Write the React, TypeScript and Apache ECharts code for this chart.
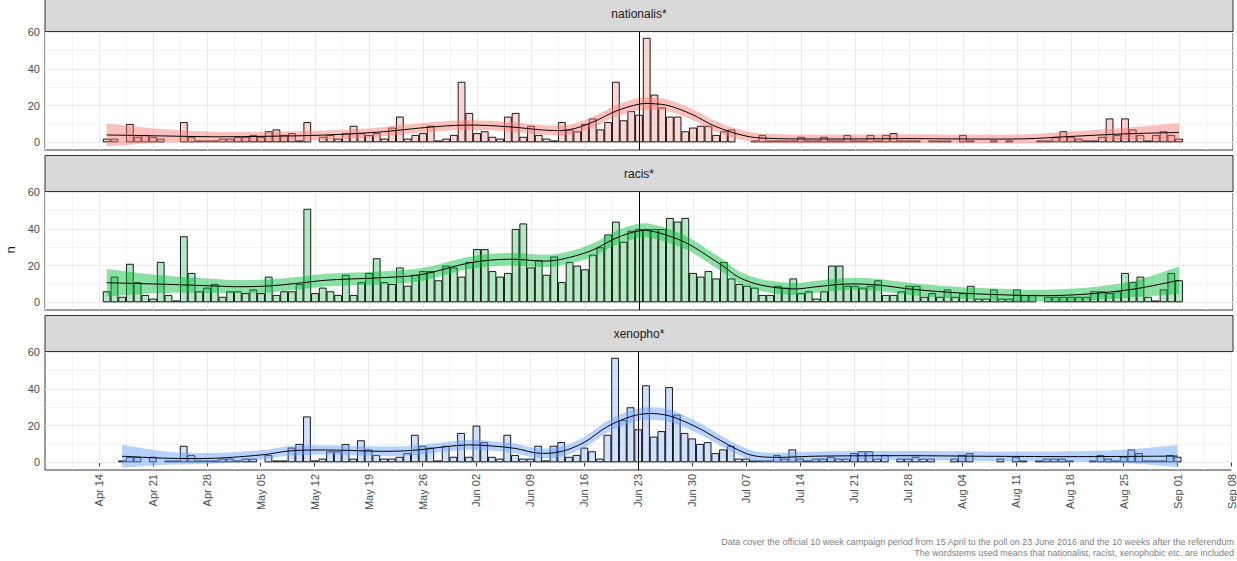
import React, { useEffect, useRef } from 'react';
import * as echarts from 'echarts';

// ---------- data ----------
const facetNames = ['nationalis*', 'racis*', 'xenopho*'];
// x value 0 = 14 April 2016; day 1 = 15 April ... day 140 = 1 September
const xTickLabels = ['Apr 14', 'Apr 21', 'Apr 28', 'May 05', 'May 12', 'May 19', 'May 26', 'Jun 02', 'Jun 09', 'Jun 16', 'Jun 23', 'Jun 30', 'Jul 07', 'Jul 14', 'Jul 21', 'Jul 28', 'Aug 04', 'Aug 11', 'Aug 18', 'Aug 25', 'Sep 01', 'Sep 08'];
const yTickValues = [0, 20, 40, 60];
const referendumDay = 70; // 23 June

const nationalisCounts = [
  2, 2, 0, 10, 3, 4, 3, 2, 0, 0,
  11, 3, 1, 1, 1, 2, 2, 3, 3, 4,
  3, 6, 7, 4, 5, 1, 11, 0, 3, 4,
  2, 5, 9, 5, 4, 5, 2, 8, 14, 2,
  4, 5, 9, 1, 2, 4, 33, 16, 5, 6,
  3, 2, 14, 16, 3, 9, 4, 2, 1, 11,
  7, 6, 10, 13, 7, 11, 33, 12, 17, 15,
  57, 26, 19, 14, 14, 6, 8, 9, 9, 4,
  6, 7, 0, 0, 1, 4, 1, 1, 1, 1,
  3, 1, 1, 3, 1, 1, 4, 1, 1, 4,
  1, 4, 5, 1, 1, 1, 0, 1, 1, 1,
  0, 4, 1, 0, 0, 1, 0, 1, 0, 0,
  0, 1, 1, 3, 6, 3, 2, 1, 1, 3,
  13, 4, 13, 7, 4, 1, 4, 6, 4, 2,
];
const racisCounts = [
  6, 14, 3, 21, 11, 4, 2, 22, 4, 1,
  36, 16, 6, 8, 10, 3, 6, 6, 5, 7,
  5, 14, 4, 6, 6, 10, 51, 5, 8, 6,
  4, 15, 4, 11, 16, 24, 11, 10, 19, 9,
  15, 17, 17, 12, 20, 19, 14, 22, 29, 29,
  17, 14, 16, 40, 43, 19, 23, 15, 25, 11,
  22, 20, 18, 26, 30, 37, 44, 33, 39, 40,
  40, 40, 40, 46, 44, 46, 16, 14, 17, 13,
  22, 13, 10, 9, 8, 4, 4, 9, 8, 13,
  5, 6, 2, 6, 20, 20, 9, 9, 8, 9,
  12, 4, 4, 6, 9, 9, 3, 5, 3, 7,
  3, 5, 9, 2, 2, 7, 2, 2, 7, 4,
  4, 0, 3, 3, 3, 3, 3, 3, 6, 6,
  5, 6, 16, 11, 14, 3, 1, 7, 16, 12,
];
const xenophoCounts = [
  0, 0, 1, 3, 3, 0, 3, 0, 1, 1,
  9, 4, 1, 1, 1, 2, 2, 1, 2, 2,
  0, 4, 1, 1, 8, 10, 25, 1, 2, 6,
  6, 10, 2, 12, 7, 4, 2, 2, 3, 5,
  15, 9, 8, 1, 9, 3, 16, 3, 20, 11,
  3, 2, 15, 4, 2, 2, 9, 1, 9, 11,
  3, 4, 8, 6, 2, 15, 57, 23, 30, 18,
  42, 14, 17, 41, 26, 16, 13, 10, 11, 5,
  7, 9, 2, 2, 1, 1, 1, 4, 2, 7,
  2, 1, 2, 2, 3, 2, 2, 5, 6, 6,
  2, 4, 0, 2, 2, 3, 2, 2, 0, 0,
  2, 4, 5, 0, 0, 0, 2, 0, 3, 1,
  0, 1, 2, 2, 2, 1, 0, 0, 1, 4,
  2, 1, 3, 7, 5, 1, 1, 1, 4, 3,
];

// smoothed trend and half-width of its confidence band
const nationalisSmoothDays = [1, 8, 15, 22, 29, 36, 43, 48, 53, 58, 61, 64, 67, 70, 72, 74, 77, 80, 84, 88, 95, 105, 113, 120, 126, 133, 140];
const nationalisSmoothFit = [4.0, 3.5, 3.0, 3.3, 3.9, 5.5, 8.3, 9.4, 8.5, 6.6, 6.9, 11.0, 17.0, 20.8, 21.0, 19.8, 15.0, 8.5, 3.3, 2.0, 1.8, 2.0, 1.8, 1.9, 3.2, 4.6, 5.4];
const nationalisSmoothSE = [6.3, 3.8, 2.8, 2.5, 2.5, 2.5, 2.6, 2.6, 2.6, 2.6, 2.7, 2.9, 3.1, 3.3, 3.3, 3.2, 3.0, 2.8, 2.6, 2.5, 2.4, 2.4, 2.4, 2.5, 2.7, 3.4, 5.0];

const racisSmoothDays = [1, 8, 15, 18, 22, 26, 30, 37, 42, 48, 53, 58, 61, 64, 67, 70, 72, 75, 77, 79, 81, 83, 86, 90, 93, 97, 101, 105, 110, 115, 122, 127, 131, 135, 140];
const racisSmoothFit = [10.7, 9.9, 8.9, 8.5, 8.9, 10.5, 12.2, 13.5, 15.3, 21.5, 23.5, 22.5, 24.5, 28.5, 35.0, 39.0, 38.5, 34.5, 30.4, 25.0, 19.5, 13.5, 9.2, 7.3, 8.5, 10.0, 9.4, 7.3, 5.5, 4.4, 3.6, 4.2, 5.6, 7.8, 12.0];
const racisSmoothSE = [7.5, 4.8, 3.8, 3.6, 3.5, 3.5, 3.5, 3.5, 3.5, 3.4, 3.4, 3.4, 3.4, 3.6, 3.8, 3.8, 3.8, 3.7, 3.6, 3.5, 3.4, 3.3, 3.3, 3.3, 3.3, 3.3, 3.3, 3.3, 3.2, 3.2, 3.2, 3.4, 3.8, 4.8, 7.5];

const xenophoSmoothDays = [3, 9, 15, 21, 25, 30, 37, 41, 45, 48, 51, 54, 57, 60, 63, 66, 69, 71, 73, 75, 78, 80, 83, 85, 88, 94, 105, 115, 125, 133, 140];
const xenophoSmoothFit = [3.3, 2.2, 2.2, 4.0, 6.3, 6.7, 6.0, 6.6, 8.5, 9.5, 8.9, 7.6, 5.0, 5.9, 10.9, 19.5, 24.9, 26.5, 26.2, 24.0, 18.3, 13.5, 6.7, 3.6, 2.7, 3.4, 3.6, 3.3, 3.1, 3.2, 3.4];
const xenophoSmoothSE = [6.3, 3.6, 2.9, 2.6, 2.6, 2.6, 2.6, 2.6, 2.6, 2.6, 2.6, 2.6, 2.6, 2.7, 2.9, 3.2, 3.4, 3.4, 3.4, 3.3, 3.1, 2.9, 2.7, 2.6, 2.5, 2.5, 2.5, 2.6, 2.8, 3.6, 6.0];

const captionLines = [
  'Data cover the official 10 week campaign period from 15 April to the poll on 23 June 2016 and the 10 weeks after the referendum',
  'The wordstems used means that nationalist, racist, xenophobic etc. are included',
];

// ---------- layout / style ----------
const W = 1237;
const H = 561;
const LEFT = 45;
const RIGHT = 4;
const PANEL_TOPS = [31.5, 191.5, 351.5];
const PANEL_H = 118.5;
const STRIP_H = 36;
const X_MIN = -7;
const X_MAX = 147;
const Y_MIN = -4.2;
const Y_MAX = 60.44;
const FONT = '"Liberation Sans", Arial, Helvetica, sans-serif';
const GRID_COLOR = '#EBEBEB';

const panels = [
  { counts: nationalisCounts, days: nationalisSmoothDays, fit: nationalisSmoothFit, se: nationalisSmoothSE, fill: 'rgba(248,118,109,0.3)', band: 'rgba(248,118,109,0.45)' },
  { counts: racisCounts, days: racisSmoothDays, fit: racisSmoothFit, se: racisSmoothSE, fill: 'rgba(0,186,56,0.3)', band: 'rgba(0,186,56,0.45)' },
  { counts: xenophoCounts, days: xenophoSmoothDays, fit: xenophoSmoothFit, se: xenophoSmoothSE, fill: 'rgba(97,156,255,0.3)', band: 'rgba(97,156,255,0.45)' },
];

// Catmull-Rom curve through already-projected pixel points (bezier segments only)
function curveSegments(pts: number[][]): string {
  const n = pts.length;
  let d = '';
  for (let i = 0; i < n - 1; i++) {
    const p0 = pts[Math.max(i - 1, 0)];
    const p1 = pts[i];
    const p2 = pts[i + 1];
    const p3 = pts[Math.min(i + 2, n - 1)];
    const c1x = p1[0] + (p2[0] - p0[0]) / 6;
    const c1y = p1[1] + (p2[1] - p0[1]) / 6;
    const c2x = p2[0] - (p3[0] - p1[0]) / 6;
    const c2y = p2[1] - (p3[1] - p1[1]) / 6;
    d += ` C${c1x.toFixed(2)},${c1y.toFixed(2)} ${c2x.toFixed(2)},${c2y.toFixed(2)} ${p2[0].toFixed(2)},${p2[1].toFixed(2)}`;
  }
  return d;
}
const pt = (p: number[]) => `${p[0].toFixed(2)},${p[1].toFixed(2)}`;

function buildOption() {
  const plotW = W - LEFT - RIGHT;
  const dayPx = plotW / (X_MAX - X_MIN);
  const xTickValues = xTickLabels.map((_, j) => j * 7);

  const grid = PANEL_TOPS.map((t) => ({
    left: LEFT, right: RIGHT, top: t, height: PANEL_H,
    show: true, borderColor: '#333333', borderWidth: 1, backgroundColor: 'transparent',
  }));

  const xAxis = PANEL_TOPS.map((_, i) => ({
    type: 'value', gridIndex: i, min: X_MIN, max: X_MAX, interval: 7,
    axisLine: { show: false },
    axisTick: i === 2
      ? { show: true, length: 4, lineStyle: { color: '#333333', width: 1 }, customValues: xTickValues }
      : { show: false },
    axisLabel: i === 2
      ? {
          show: true, rotate: 90, fontSize: 11, color: '#4D4D4D', fontFamily: FONT, margin: 4,
          customValues: xTickValues, showMaxLabel: true,
          formatter: (v: number) => {
            const j = Math.round(v / 7);
            return v >= 0 && j < xTickLabels.length ? xTickLabels[j] : '';
          },
        }
      : { show: false },
    splitLine: { show: true, lineStyle: { color: GRID_COLOR, width: 1.1 } },
    minorTick: { show: false, splitNumber: 2 },
    minorSplitLine: { show: true, lineStyle: { color: GRID_COLOR, width: 0.6 } },
  }));

  const yAxis = PANEL_TOPS.map((_, i) => ({
    type: 'value', gridIndex: i, min: Y_MIN, max: Y_MAX,
    axisLine: { show: false },
    axisTick: { show: true, length: 4, lineStyle: { color: '#333333', width: 1 }, customValues: yTickValues },
    axisLabel: { show: true, fontSize: 11, color: '#4D4D4D', fontFamily: FONT, margin: 5, customValues: yTickValues },
    splitLine: { show: false },
  }));

  const series: any[] = [];
  panels.forEach((p, i) => {
    series.push({
      type: 'line', xAxisIndex: i, yAxisIndex: i, data: [], silent: true, z: 1,
      markLine: {
        silent: true, symbol: ['none', 'none'], z: 1, animation: false, label: { show: false },
        data: [0, 10, 20, 30, 40, 50, 60].map((v) => ({
          yAxis: v,
          lineStyle: { color: GRID_COLOR, width: v % 20 === 0 ? 1.1 : 0.6, type: 'solid' },
        })),
      },
    });
    series.push({
      type: 'bar', xAxisIndex: i, yAxisIndex: i, z: 2, silent: true,
      barWidth: dayPx,
      data: p.counts.map((v, j) => [j + 1, v]).filter((d) => d[1] > 0),
      itemStyle: { color: p.fill, borderColor: '#000000', borderWidth: 0.9 },
      markLine: {
        silent: true, symbol: ['none', 'none'], z: 6, animation: false, label: { show: false },
        lineStyle: { color: '#000000', width: 1, type: 'solid' },
        data: [{ xAxis: referendumDay }],
      },
    });
    // confidence band + fitted trend line
    series.push({
      type: 'custom', xAxisIndex: i, yAxisIndex: i, z: 3, silent: true,
      data: [[p.days[0], p.fit[0]]],
      renderItem: (_params: any, api: any) => {
        const upper = p.days.map((d, j) => api.coord([d, p.fit[j] + p.se[j]]));
        const lower = p.days.map((d, j) => api.coord([d, p.fit[j] - p.se[j]])).reverse();
        const mid = p.days.map((d, j) => api.coord([d, p.fit[j]]));
        const bandPath = `M${pt(upper[0])}` + curveSegments(upper) + ` L${pt(lower[0])}` + curveSegments(lower) + ' Z';
        const linePath = `M${pt(mid[0])}` + curveSegments(mid);
        return {
          type: 'group',
          children: [
            { type: 'path', shape: { pathData: bandPath }, style: { fill: p.band, stroke: 'none' } },
            { type: 'path', shape: { pathData: linePath }, style: { fill: 'none', stroke: '#000000', lineWidth: 1 } },
          ],
        };
      },
    });
  });

  const graphic: any[] = [];
  PANEL_TOPS.forEach((t, i) => {
    graphic.push({
      type: 'rect', z: 10,
      shape: { x: LEFT, y: t - STRIP_H, width: plotW, height: STRIP_H },
      style: { fill: '#D9D9D9', stroke: '#333333', lineWidth: 1 },
    });
    graphic.push({
      type: 'text', z: 11, x: LEFT + plotW / 2, y: t - STRIP_H / 2,
      style: { text: facetNames[i], fill: '#1A1A1A', fontSize: 12, fontFamily: FONT, align: 'center', verticalAlign: 'middle' },
    });
  });
  graphic.push({
    type: 'text', z: 11, x: 10, y: 250, rotation: Math.PI / 2,
    style: { text: 'n', fill: '#1A1A1A', fontSize: 13, fontFamily: FONT, align: 'center', verticalAlign: 'middle' },
  });
  captionLines.forEach((line, j) => {
    graphic.push({
      type: 'text', z: 11, x: W - 3, y: 542 + j * 11,
      style: { text: line, fill: '#808080', fontSize: 9, fontFamily: FONT, align: 'right', verticalAlign: 'middle' },
    });
  });

  return { animation: false, backgroundColor: '#ffffff', grid, xAxis, yAxis, series, graphic };
}

export default function App() {
  const ref = useRef<HTMLDivElement>(null);
  useEffect(() => {
    if (!ref.current) return;
    const chart = echarts.init(ref.current, null, { renderer: 'svg' });
    chart.setOption(buildOption() as any);
    return () => chart.dispose();
  }, []);
  return <div ref={ref} style={{ position: 'fixed', left: 0, top: 0, width: W, height: H }} />;
}
